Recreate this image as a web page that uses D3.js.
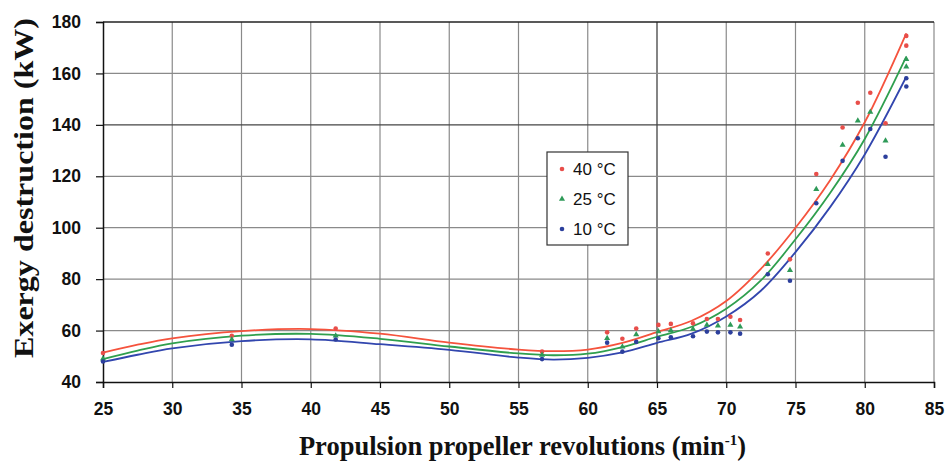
<!DOCTYPE html>
<html>
<head>
<meta charset="utf-8">
<script src="https://cdn.jsdelivr.net/npm/d3@7"></script>
<style>
  body { margin: 0; background: #fff; }
  svg { display: block; }
</style>
</head>
<body>
<svg id="chart"></svg>
<script>
const width = 946, height = 464;
const marginLeft = 103, marginRight = 12, marginTop = 22, marginBottom = 82;

// measured points (x = propeller revolutions)
const pointX =   [25.0, 34.3, 41.8, 56.7, 61.4, 62.5, 63.5, 65.1, 66.0, 67.6, 68.6, 69.4, 70.3, 71.0, 73.0, 74.6, 76.5, 78.4, 79.5, 80.4, 81.5, 83.0, 83.0];
const points40 = [51.3, 58.0, 60.8, 51.8, 59.3, 56.8, 60.8, 62.2, 62.6, 62.8, 64.5, 64.5, 65.4, 64.1, 90.0, 87.7, 120.9, 139.0, 148.6, 152.5, 140.6, 174.6, 170.8];
const points25 = [49.0, 56.5, 58.0, 50.5, 57.0, 53.7, 58.5, 59.6, 60.0, 60.6, 62.2, 61.9, 62.2, 61.5, 85.8, 83.5, 115.0, 132.2, 141.6, 145.0, 133.8, 165.5, 162.6];
const points10 = [48.0, 54.5, 56.5, 48.9, 55.3, 51.8, 55.6, 57.0, 57.4, 57.8, 59.6, 59.3, 59.3, 58.8, 81.9, 79.4, 109.5, 126.0, 134.8, 138.4, 127.6, 158.1, 154.9];

// trend curves
const curveX =   [25, 27.5, 30, 35, 40, 45, 50, 55, 57.5, 60, 62.5, 65, 67.5, 70, 72.5, 75, 77.5, 80, 83];
const curve40 =  [51.4, 54.5, 57.0, 59.8, 60.6, 58.8, 55.3, 52.6, 52.0, 52.6, 55.2, 59.4, 63.8, 71.5, 84.0, 100.0, 118.5, 141.0, 175.6];
const curve25 =  [48.9, 52.2, 55.0, 58.0, 58.7, 56.8, 53.8, 51.1, 50.4, 51.0, 53.6, 57.6, 61.5, 68.5, 79.5, 95.5, 113.5, 134.5, 166.5];
const curve10 =  [47.8, 50.6, 53.1, 55.9, 56.6, 54.7, 52.5, 49.5, 48.7, 49.4, 51.5, 55.2, 58.8, 65.5, 75.5, 90.5, 108.0, 128.5, 158.7];

const seriesNames = ['40 °C', '25 °C', '10 °C'];
const xTicks = [25, 30, 35, 40, 45, 50, 55, 60, 65, 70, 75, 80, 85];
const yTicks = [40, 60, 80, 100, 120, 140, 160, 180];

const series = [
  { name: seriesNames[0], pts: points40, curve: curve40, line: '#f5533d', mark: '#e84e4a', shape: 'circle' },
  { name: seriesNames[1], pts: points25, curve: curve25, line: '#2f9f4e', mark: '#2e9a58', shape: 'triangle' },
  { name: seriesNames[2], pts: points10, curve: curve10, line: '#3246ae', mark: '#2c3f9c', shape: 'circle' }
];

const x = d3.scaleLinear().domain([25, 85]).range([marginLeft, width - marginRight]);
const y = d3.scaleLinear().domain([40, 180]).range([height - marginBottom, marginTop]);

const svg = d3.select('#chart')
  .attr('width', width)
  .attr('height', height)
  .attr('viewBox', [0, 0, width, height]);

// grid
const grid = svg.append('g');
grid.selectAll('line.v')
  .data(xTicks.slice(1))
  .join('line')
  .attr('x1', d => x(d)).attr('x2', d => x(d))
  .attr('y1', y(40)).attr('y2', y(180))
  .attr('stroke', d => d === 65 ? '#333' : '#8a8a8a')
  .attr('stroke-width', 1.2);
grid.selectAll('line.h')
  .data(yTicks.slice(1, -1))
  .join('line')
  .attr('x1', x(25)).attr('x2', x(85))
  .attr('y1', d => y(d)).attr('y2', d => y(d))
  .attr('stroke', d => d === 140 ? '#444' : '#8a8a8a')
  .attr('stroke-width', 1.2);
// top border
svg.append('line')
  .attr('x1', x(25)).attr('x2', x(85))
  .attr('y1', y(180)).attr('y2', y(180))
  .attr('stroke', '#222').attr('stroke-width', 1.5);

// axes
const xAxis = svg.append('g')
  .attr('transform', `translate(0,${y(40)})`)
  .call(d3.axisBottom(x).tickValues(xTicks).tickSize(6).tickPadding(15).tickFormat(d3.format('d')));
const yAxis = svg.append('g')
  .attr('transform', `translate(${x(25)},0)`)
  .call(d3.axisLeft(y).tickValues(yTicks).tickSize(7).tickPadding(15).tickFormat(d3.format('d')));
[xAxis, yAxis].forEach(a => {
  a.select('.domain').attr('stroke', '#111').attr('stroke-width', 1.5);
  a.selectAll('.tick line').attr('stroke', '#111').attr('stroke-width', 1.2);
  a.selectAll('.tick text')
    .attr('fill', '#111')
    .style('font-family', '"Liberation Sans", Arial, sans-serif')
    .style('font-weight', 'bold')
    .style('font-size', '17.5px');
});

// trend lines
const line = d3.line()
  .x(d => x(d[0]))
  .y(d => y(d[1]))
  .curve(d3.curveCatmullRom.alpha(0.5));

series.forEach(s => {
  svg.append('path')
    .datum(curveX.map((cx, i) => [cx, s.curve[i]]))
    .attr('fill', 'none')
    .attr('stroke', s.line)
    .attr('stroke-width', 1.8)
    .attr('d', line);
});

// markers
const tri = d3.symbol().type(d3.symbolTriangle).size(16);
series.forEach(s => {
  const g = svg.append('g');
  const data = pointX.map((px, i) => [px, s.pts[i]]);
  if (s.shape === 'circle') {
    g.selectAll('circle').data(data).join('circle')
      .attr('cx', d => x(d[0])).attr('cy', d => y(d[1]))
      .attr('r', 2.3).attr('fill', s.mark);
  } else {
    g.selectAll('path').data(data).join('path')
      .attr('transform', d => `translate(${x(d[0])},${y(d[1])})`)
      .attr('d', tri).attr('fill', s.mark);
  }
});

// legend
const legend = svg.append('g').attr('transform', 'translate(547,152)');
legend.append('rect')
  .attr('width', 81).attr('height', 93)
  .attr('fill', '#fff').attr('stroke', '#333').attr('stroke-width', 1.2);
series.forEach((s, i) => {
  const ly = 17 + i * 30;
  if (s.shape === 'circle') {
    legend.append('circle').attr('cx', 15).attr('cy', ly).attr('r', 2.3).attr('fill', s.mark);
  } else {
    legend.append('path').attr('transform', `translate(15,${ly})`).attr('d', tri).attr('fill', s.mark);
  }
  legend.append('text')
    .attr('x', 26).attr('y', ly)
    .attr('dy', '0.36em')
    .attr('fill', '#111')
    .style('font-family', '"Liberation Sans", Arial, sans-serif')
    .style('font-size', '17px')
    .text(s.name);
});

// axis titles
const xTitle = svg.append('text')
  .attr('x', (x(25) + x(85)) / 2 + 4)
  .attr('y', 455)
  .attr('text-anchor', 'middle')
  .attr('fill', '#111')
  .style('font-family', '"Liberation Serif", "Times New Roman", serif')
  .style('font-weight', 'bold')
  .style('font-size', '26.5px');
xTitle.append('tspan').text('Propulsion propeller revolutions (min');
xTitle.append('tspan').attr('dy', -10).style('font-size', '15px').text('-1');
xTitle.append('tspan').attr('dy', 10).text(')');

svg.append('text')
  .attr('transform', 'translate(33,188) rotate(-90)')
  .attr('text-anchor', 'middle')
  .attr('fill', '#111')
  .attr('textLength', 340)
  .attr('lengthAdjust', 'spacingAndGlyphs')
  .style('font-family', '"Liberation Serif", "Times New Roman", serif')
  .style('font-weight', 'bold')
  .style('font-size', '27px')
  .text('Exergy destruction (kW)');
</script>
</body>
</html>
